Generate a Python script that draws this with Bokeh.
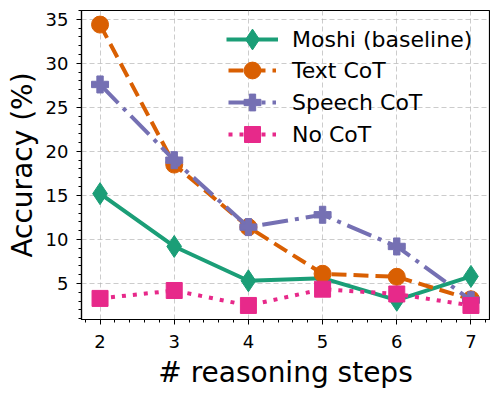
from bokeh.plotting import figure
from bokeh.models import Range1d, Legend, LegendItem, FixedTicker
from bokeh.embed import file_html
from bokeh.resources import INLINE

steps = [2, 3, 4, 5, 6, 7]
moshi = [15.2, 9.2, 5.3, 5.6, 3.1, 5.8]
text_cot = [34.4, 18.5, 11.4, 6.1, 5.75, 3.2]
speech_cot = [27.6, 19.0, 11.4, 12.8, 9.2, 3.1]
no_cot = [3.3, 4.2, 2.5, 4.35, 3.8, 2.5]

labels = ["Moshi (baseline)", "Text CoT", "Speech CoT", "No CoT"]
x_ticks = [2, 3, 4, 5, 6, 7]
y_ticks = [5, 10, 15, 20, 25, 30, 35]

FONT = "DejaVu Sans"

p = figure(width=490, height=392, output_backend="svg", toolbar_location=None,
           min_border_left=81, min_border_right=1, min_border_top=10, min_border_bottom=73,
           x_range=Range1d(1.75, 7.25), y_range=Range1d(0.905, 36.0))

p.background_fill_color = "white"
p.border_fill_color = "white"
p.outline_line_color = "black"
p.outline_line_width = 1.2

for ax in (p.xaxis[0], p.yaxis[0]):
    ax.axis_line_color = "black"
    ax.axis_line_width = 1.2
    ax.major_tick_out = 5
    ax.major_tick_in = 0
    ax.minor_tick_out = 3
    ax.minor_tick_in = 0
    ax.major_tick_line_color = "black"
    ax.minor_tick_line_color = "black"
    ax.major_label_text_font = FONT
    ax.major_label_text_font_size = "18px"
    ax.major_label_text_color = "black"
    ax.axis_label_text_font = FONT
    ax.axis_label_text_font_size = "28px"
    ax.axis_label_text_font_style = "normal"
    ax.axis_label_text_color = "black"

p.xaxis.major_label_standoff = 10
p.yaxis.major_label_standoff = 8
p.xaxis.ticker = FixedTicker(ticks=x_ticks, minor_ticks=[x_ticks[0] - 1 + i * 0.2 for i in range(0, 46)])
p.yaxis.ticker = FixedTicker(ticks=y_ticks, minor_ticks=[i * 1.0 for i in range(0, 37)])
p.xaxis.axis_label = "# reasoning steps"
p.yaxis.axis_label = "Accuracy (%)"
p.xaxis.axis_label_standoff = 5
p.yaxis.axis_label_standoff = 4

p.grid.grid_line_color = "#b0b0b0"
p.grid.grid_line_alpha = 0.65
p.grid.grid_line_dash = "5 3"
p.grid.grid_line_width = 1

series = [
    (moshi, "#1b9e77", "solid", "diamond", 22),
    (text_cot, "#d95f02", "15 7", "circle", 17),
    (speech_cot, "#7570b3", "26 7 4 7", "plus", 17),
    (no_cot, "#e7298a", "4 7", "square", 16),
]

# per-legend: (x, y, glyph_width, glyph_height, label_standoff)
legend_boxes = [
    (145, 254, 52, 52, 14),
    (147, 228, 48, 42, 16),
    (147, 196, 48, 42, 16),
    (147, 165, 48, 40, 16),
]

for (ys, color, dash, marker, size), lab, (lx, ly, gw, gh, ls) in zip(series, labels, legend_boxes):
    l = p.line(steps, ys, line_color=color, line_width=4, line_dash=dash)
    s = p.scatter(steps, ys, marker=marker, size=size, fill_color=color, line_color=color, line_width=1)
    leg = Legend(items=[LegendItem(label=lab, renderers=[l, s])], location=(lx, ly))
    leg.border_line_color = None
    leg.background_fill_alpha = 0
    leg.padding = 0
    leg.margin = 0
    leg.spacing = 0
    leg.glyph_width = gw
    leg.glyph_height = gh
    leg.label_height = 25
    leg.label_standoff = ls
    leg.label_text_font = FONT
    leg.label_text_font_size = "22px"
    leg.label_text_color = "black"
    p.add_layout(leg, "center")

open("out.html", "w").write(file_html(p, INLINE))
